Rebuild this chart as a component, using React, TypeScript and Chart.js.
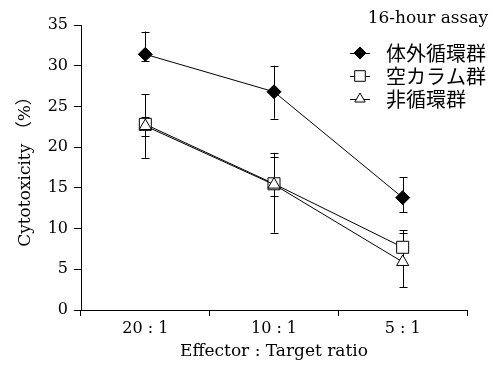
import React, { useEffect, useRef } from "react";
import { Chart, registerables } from "chart.js";
import { drawPoint } from "chart.js/helpers";

Chart.register(...registerables);

const categories = ["20 : 1", "10 : 1", "5 : 1"];
const seriesNames = ["体外循環群", "空カラム群", "非循環群"];

const extracorporeal = [31.4, 26.8, 13.8];
const extracorporealLow = [30.6, 23.5, 12.0];
const extracorporealHigh = [34.2, 30.0, 16.3];

const emptyColumn = [22.8, 15.5, 7.7];
const emptyColumnLow = [18.7, 9.5, 5.6];
const emptyColumnHigh = [26.5, 19.3, 9.8];

const nonCirculation = [22.6, 15.4, 5.9];
const nonCirculationLow = [21.4, 14.0, 2.8];
const nonCirculationHigh = [23.7, 18.8, 9.5];

const yMin = 0;
const yMax = 35;
const yStep = 5;

const assayLabel = "16-hour assay";
const xTitle = "Effector : Target ratio";
const yTitle = "Cytotoxicity （%）";

const SERIF = "'DejaVu Serif', 'Liberation Serif', serif";
const CJK = "'Noto Sans CJK JP', 'Noto Sans', sans-serif";

const lows = [extracorporealLow, emptyColumnLow, nonCirculationLow];
const highs = [extracorporealHigh, emptyColumnHigh, nonCirculationHigh];

const errorBarsPlugin = {
  id: "errorBars",
  beforeDatasetsDraw(chart: any) {
    const ctx = chart.ctx;
    const x = chart.scales.x;
    const y = chart.scales.y;
    ctx.save();
    ctx.strokeStyle = "#000";
    ctx.lineWidth = 1;
    lows.forEach((lo, di) => {
      const hi = highs[di];
      lo.forEach((_, i) => {
        const px = Math.round(x.getPixelForValue(i)) + 0.5;
        const yl = y.getPixelForValue(lo[i]);
        const yh = y.getPixelForValue(hi[i]);
        ctx.beginPath();
        ctx.moveTo(px, yl);
        ctx.lineTo(px, yh);
        ctx.moveTo(px - 4, Math.round(yl) + 0.5);
        ctx.lineTo(px + 4, Math.round(yl) + 0.5);
        ctx.moveTo(px - 4, Math.round(yh) + 0.5);
        ctx.lineTo(px + 4, Math.round(yh) + 0.5);
        ctx.stroke();
      });
    });
    ctx.restore();
  },
};

const annotationsPlugin = {
  id: "annotations",
  afterDraw(chart: any) {
    const ctx = chart.ctx;
    const area = chart.chartArea;
    ctx.save();
    ctx.fillStyle = "#000";
    // x title
    ctx.font = `17px ${SERIF}`;
    ctx.textAlign = "center";
    ctx.textBaseline = "middle";
    ctx.fillText(xTitle, (area.left + area.right) / 2, 352);
    // y title
    ctx.save();
    ctx.translate(26, (area.top + area.bottom) / 2);
    ctx.rotate(-Math.PI / 2);
    ctx.font = `17px ${SERIF}, ${CJK}`;
    ctx.fillText(yTitle, 0, 0);
    ctx.restore();
    // assay label
    ctx.font = `17px ${SERIF}`;
    ctx.textAlign = "right";
    ctx.fillText(assayLabel, 488, 19);
    // legend
    const rows = [53, 76, 99];
    chart.data.datasets.forEach((ds: any, i: number) => {
      const ry = rows[i];
      ctx.strokeStyle = "#000";
      ctx.lineWidth = 1;
      ctx.beginPath();
      ctx.moveTo(350, ry + 0.5);
      ctx.lineTo(370, ry + 0.5);
      ctx.stroke();
      ctx.fillStyle = ds.pointBackgroundColor;
      ctx.strokeStyle = "#000";
      drawPoint(ctx, { pointStyle: ds.pointStyle, radius: ds.pointRadius - 1, rotation: 0, borderWidth: 1 }, 360, ry);
      ctx.fillStyle = "#000";
      ctx.font = `20px ${CJK}`;
      ctx.textAlign = "left";
      ctx.textBaseline = "middle";
      ctx.fillText(seriesNames[i], 386, ry);
    });
    ctx.restore();
  },
};

export default function App() {
  const ref = useRef<HTMLCanvasElement>(null);
  useEffect(() => {
    document.body.style.margin = "0";
    const chart = new Chart(ref.current as HTMLCanvasElement, {
      type: "line",
      data: {
        labels: categories,
        datasets: [
          {
            label: seriesNames[0],
            data: extracorporeal,
            borderColor: "#000",
            borderWidth: 1,
            pointStyle: "rectRot",
            pointRadius: 7,
            pointBackgroundColor: "#000",
            pointBorderColor: "#000",
            pointBorderWidth: 1,
            order: 0,
          },
          {
            label: seriesNames[1],
            data: emptyColumn,
            borderColor: "#000",
            borderWidth: 1,
            pointStyle: "rect",
            pointRadius: 8.5,
            pointBackgroundColor: "#fff",
            pointBorderColor: "#000",
            pointBorderWidth: 1,
            order: 2,
          },
          {
            label: seriesNames[2],
            data: nonCirculation,
            borderColor: "#000",
            borderWidth: 1,
            pointStyle: "triangle",
            pointRadius: 7,
            pointBackgroundColor: "#fff",
            pointBorderColor: "#000",
            pointBorderWidth: 1,
            order: 1,
          },
        ],
      },
      options: {
        responsive: false,
        animation: false,
        devicePixelRatio: 1,
        layout: { padding: { top: 25, right: 33, left: 0, bottom: 0 } },
        plugins: { legend: { display: false }, tooltip: { enabled: false } },
        scales: {
          x: {
            type: "category",
            offset: true,
            grid: { offset: true, drawOnChartArea: false, drawTicks: true, tickLength: 6, color: "#000" },
            border: { color: "#000", width: 1 },
            ticks: { color: "#000", font: { family: SERIF, size: 16 }, padding: 3, maxRotation: 0 },
            afterFit: (s: any) => { s.height = 56; },
          },
          y: {
            min: yMin,
            max: yMax,
            grid: { drawOnChartArea: false, drawTicks: true, tickLength: 7, color: "#000" },
            border: { color: "#000", width: 1 },
            ticks: { stepSize: yStep, color: "#000", font: { family: SERIF, size: 16 }, padding: 6 },
            afterFit: (s: any) => { s.width = 81; },
          },
        },
      },
      plugins: [errorBarsPlugin, annotationsPlugin],
    } as any);
    return () => chart.destroy();
  }, []);
  return (
    <div style={{ width: 500, height: 366 }}>
      <canvas ref={ref} width={500} height={366} style={{ display: "block" }} />
    </div>
  );
}
